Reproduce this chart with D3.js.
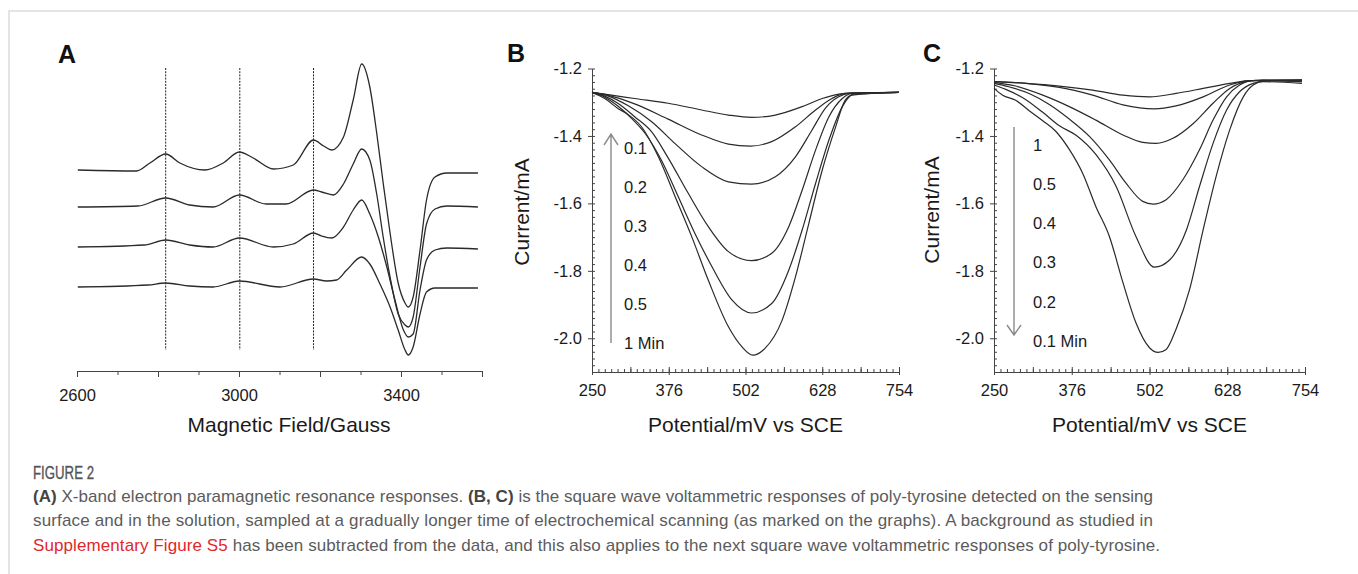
<!DOCTYPE html>
<html>
<head>
<meta charset="utf-8">
<script src="https://cdn.jsdelivr.net/npm/d3@7"></script>
<style>
  body { margin: 0; background: #fff; }
  svg { display: block; }
  text { font-family: "Liberation Sans", Arial, sans-serif; }
</style>
</head>
<body>
<div id="fig"></div>
<script>
// ---- data: panel A, EPR spectra [field (G), intensity (a.u.)] ----
const epr1 = [[2602,0],[2747,-1],[2780,7],[2819,16],[2854,7],[2916,0],[2961,7],[3001,18],[3035,12],[3085,1],[3134,5],[3184,30],[3209,24],[3229,20],[3258,33],[3282,70],[3303,106],[3323,83],[3340,37],[3356,-13],[3373,-63],[3393,-113],[3410,-133],[3418,-137],[3430,-127],[3447,-80],[3463,-30],[3484,-7],[3513,-3],[3590,-3]]
const epr2 = [[2602,0],[2750,1],[2819,9],[2878,2],[2936,0],[3001,12],[3067,3],[3116,3],[3184,17],[3204,15],[3233,12],[3258,23],[3282,43],[3303,58],[3323,47],[3340,13],[3356,-30],[3373,-70],[3393,-107],[3410,-118],[3418,-120],[3430,-110],[3447,-60],[3463,-17],[3484,-2],[3513,1],[3590,0]]
const epr3 = [[2602,0],[2766,2],[2819,7],[2878,2],[2936,0],[3001,9],[3085,0],[3134,3],[3184,14],[3204,11],[3229,9],[3258,20],[3282,37],[3303,47],[3323,33],[3344,10],[3365,-20],[3385,-53],[3406,-83],[3418,-90],[3430,-87],[3447,-43],[3463,-13],[3484,-3],[3513,-1],[3590,-2]]
const epr4 = [[2602,0],[2775,2],[2819,4],[2878,1],[2936,0],[3001,6],[3101,0],[3184,8],[3216,6],[3241,7],[3266,17],[3303,30],[3323,23],[3348,3],[3373,-20],[3393,-43],[3410,-63],[3418,-68],[3430,-60],[3447,-27],[3463,-5],[3484,-1],[3590,-1]]
const eprOffsets = [0, -37, -77, -117]
const dashedFields = [2819, 3002, 3184]
const fieldLabels = [2600, 3000, 3400]

// ---- data: panel B, SWV on sensing surface [potential (mV), current (mA)] ----
const b01 = [[250,-1.271],[282,-1.279],[320,-1.289],[375,-1.303],[430,-1.323],[474,-1.338],[512,-1.345],[551,-1.338],[595,-1.313],[628,-1.289],[655,-1.276],[677,-1.272],[754,-1.271]]
const b02 = [[250,-1.271],[276,-1.279],[320,-1.305],[375,-1.350],[430,-1.397],[474,-1.424],[510,-1.430],[545,-1.417],[584,-1.373],[617,-1.323],[644,-1.289],[666,-1.274],[754,-1.271]]
const b03 = [[250,-1.271],[276,-1.281],[309,-1.310],[348,-1.358],[386,-1.422],[430,-1.491],[474,-1.536],[512,-1.543],[551,-1.521],[584,-1.462],[611,-1.383],[633,-1.318],[655,-1.284],[672,-1.274],[754,-1.271]]
const b04 = [[250,-1.271],[271,-1.282],[293,-1.304],[320,-1.343],[348,-1.388],[375,-1.465],[408,-1.570],[441,-1.669],[474,-1.743],[512,-1.770],[545,-1.748],[573,-1.669],[595,-1.561],[617,-1.442],[639,-1.343],[661,-1.289],[677,-1.274],[754,-1.271]]
const b05 = [[250,-1.271],[271,-1.285],[293,-1.312],[315,-1.348],[337,-1.392],[364,-1.472],[392,-1.582],[419,-1.689],[447,-1.788],[480,-1.887],[512,-1.925],[545,-1.897],[573,-1.798],[595,-1.679],[617,-1.541],[639,-1.412],[661,-1.313],[677,-1.279],[754,-1.271]]
const b1min = [[250,-1.271],[271,-1.289],[293,-1.319],[309,-1.336],[331,-1.372],[359,-1.462],[386,-1.578],[414,-1.700],[441,-1.828],[474,-1.966],[496,-2.025],[514,-2.050],[534,-2.030],[562,-1.947],[584,-1.818],[606,-1.659],[628,-1.501],[650,-1.373],[666,-1.293],[680,-1.276],[754,-1.271]]
const labelsB = ["0.1", "0.2", "0.3", "0.4", "0.5", "1 Min"]

// ---- data: panel C, SWV in solution ----
const c1 = [[250,-1.239],[302,-1.244],[356,-1.252],[410,-1.264],[459,-1.279],[502,-1.284],[545,-1.274],[589,-1.259],[632,-1.244],[665,-1.236],[749,-1.234]]
const c05 = [[250,-1.239],[302,-1.244],[356,-1.256],[410,-1.279],[459,-1.308],[510,-1.320],[545,-1.311],[589,-1.284],[632,-1.249],[665,-1.236],[749,-1.234]]
const c04 = [[250,-1.241],[285,-1.252],[329,-1.279],[372,-1.313],[415,-1.353],[459,-1.397],[491,-1.419],[513,-1.422],[540,-1.407],[573,-1.363],[605,-1.303],[632,-1.259],[659,-1.239],[686,-1.234],[749,-1.236]]
const c03 = [[250,-1.244],[274,-1.254],[307,-1.274],[339,-1.306],[372,-1.350],[405,-1.402],[437,-1.471],[464,-1.540],[491,-1.594],[508,-1.602],[529,-1.589],[556,-1.530],[583,-1.441],[605,-1.353],[627,-1.284],[648,-1.249],[670,-1.236],[749,-1.236]]
const c02 = [[250,-1.249],[269,-1.262],[296,-1.286],[329,-1.330],[356,-1.370],[383,-1.398],[415,-1.455],[448,-1.550],[480,-1.698],[510,-1.789],[535,-1.767],[562,-1.678],[583,-1.550],[605,-1.422],[627,-1.323],[648,-1.269],[670,-1.244],[692,-1.237],[749,-1.239]]
const c01 = [[250,-1.259],[264,-1.279],[285,-1.294],[307,-1.325],[329,-1.355],[350,-1.386],[372,-1.440],[394,-1.512],[415,-1.609],[437,-1.698],[459,-1.835],[480,-1.954],[502,-2.028],[516,-2.042],[529,-2.033],[545,-1.973],[567,-1.855],[589,-1.678],[610,-1.520],[632,-1.382],[654,-1.284],[670,-1.249],[686,-1.239],[749,-1.244]]
const labelsC = ["1", "0.5", "0.4", "0.3", "0.2", "0.1 Min"]

const potentialTicks = [250, 376, 502, 628, 754]
const currentTicks = [-1.2, -1.4, -1.6, -1.8, -2.0]

const ink = "#2a2a2a"
const tickFont = 16.5

const svg = d3.select("#fig").append("svg")
  .attr("width", 1358)
  .attr("height", 574)

// card border
svg.append("path")
  .attr("d", "M9,574V11H1358")
  .attr("fill", "none")
  .attr("stroke", "#dcdcdc")
  .attr("stroke-width", 1.5)

function styleAxis(g) {
  g.attr("font-size", tickFont).attr("font-family", '"Liberation Sans", Arial, sans-serif')
  g.selectAll(".domain").attr("stroke", "#444")
  g.selectAll(".tick line").attr("stroke", "#444")
  g.selectAll(".tick text").attr("fill", "#1a1a1a")
}

// ================= Panel A =================
const gA = svg.append("g")
const xA = d3.scaleLinear().domain([2600, 3600]).range([77, 482])
const yA = d3.scaleLinear().domain([-200, 106]).range([370, 64])

gA.append("g")
  .attr("transform", "translate(0,371)")
  .call(d3.axisBottom(xA).tickValues(d3.range(2600, 3601, 200)).tickSize(6).tickSizeOuter(0)
    .tickPadding(12).tickFormat(d => fieldLabels.includes(d) ? d : ""))
  .call(styleAxis)
gA.append("g")
  .attr("transform", "translate(0,371)")
  .call(d3.axisBottom(xA).tickValues(d3.range(2700, 3600, 200)).tickSize(4).tickFormat(""))
  .call(g => g.select(".domain").remove())
  .call(styleAxis)

gA.selectAll("line.dash")
  .data(dashedFields)
  .join("line")
  .attr("class", "dash")
  .attr("x1", d => xA(d)).attr("x2", d => xA(d))
  .attr("y1", yA(102)).attr("y2", yA(-180))
  .attr("stroke", "#222")
  .attr("stroke-width", 1)
  .attr("stroke-dasharray", "2,1.2")

const lineA = d3.line().x(d => xA(d[0])).y(d => yA(d[1])).curve(d3.curveMonotoneX)
gA.selectAll("path.epr")
  .data([epr1, epr2, epr3, epr4])
  .join("path")
  .attr("class", "epr")
  .attr("d", (t, i) => lineA(t.map(d => [d[0], d[1] + eprOffsets[i]])))
  .attr("fill", "none")
  .attr("stroke", ink)
  .attr("stroke-width", 1.3)

gA.append("text").attr("x", 289).attr("y", 432).attr("text-anchor", "middle")
  .attr("font-size", 21).attr("fill", "#1a1a1a").text("Magnetic Field/Gauss")
gA.append("text").attr("x", 58).attr("y", 63).attr("font-size", 25).attr("font-weight", "bold")
  .attr("fill", "#111").text("A")

// ================= Panels B and C =================
function drawSwv(o) {
  const g = svg.append("g")
  const x = d3.scaleLinear().domain([250, 754]).range([o.x0, o.x1])
  const y = d3.scaleLinear().domain([-2.1, -1.2]).range([372, 68.5])

  // y axis: labelled ticks outward, minor ticks inward
  g.append("g")
    .attr("transform", `translate(${o.x0},0)`)
    .call(d3.axisLeft(y).tickValues(currentTicks).tickSize(4).tickSizeOuter(0).tickPadding(6)
      .tickFormat(d => d.toFixed(1)))
    .call(styleAxis)
  g.append("g")
    .attr("transform", `translate(${o.x0},0)`)
    .call(d3.axisRight(y).tickValues(d3.range(0, 46).map(i => -2.1 + i * 0.02)).tickSize(3).tickFormat(""))
    .call(gg => gg.select(".domain").remove())
    .call(styleAxis)

  // x axis
  g.append("g")
    .attr("transform", "translate(0,372)")
    .call(d3.axisBottom(x).tickValues(potentialTicks).tickSize(3).tickSizeOuter(0).tickPadding(9))
    .call(styleAxis)
  g.append("g")
    .attr("transform", "translate(0,372)")
    .call(d3.axisTop(x).tickValues(d3.range(0, 49).map(i => 250 + i * 10.5)).tickSize(3).tickFormat(""))
    .call(gg => gg.select(".domain").remove())
    .call(styleAxis)
  g.append("g")
    .attr("transform", "translate(0,372)")
    .call(d3.axisTop(x).tickValues(d3.range(0, 9).map(i => 250 + i * 63)).tickSize(5).tickFormat(""))
    .call(gg => gg.select(".domain").remove())
    .call(styleAxis)

  const line = d3.line().x(d => x(d[0])).y(d => y(d[1])).curve(d3.curveMonotoneX)
  g.selectAll("path.swv")
    .data(o.series)
    .join("path")
    .attr("class", "swv")
    .attr("d", line)
    .attr("fill", "none")
    .attr("stroke", ink)
    .attr("stroke-width", 1.2)

  // time arrow
  const ah = o.tipY < o.tailY ? 11 : -10
  g.append("path")
    .attr("d", `M${o.arrowX},${o.tailY}V${o.tipY}M${o.arrowX - 7},${o.tipY + ah}L${o.arrowX},${o.tipY}L${o.arrowX + 7},${o.tipY + ah}`)
    .attr("fill", "none")
    .attr("stroke", "#8a8a8a")
    .attr("stroke-width", 1.4)

  g.selectAll("text.lab")
    .data(o.labels)
    .join("text")
    .attr("class", "lab")
    .attr("x", o.labelX)
    .attr("y", (d, i) => o.labelY0 + i * o.labelStep)
    .attr("dy", "0.35em")
    .attr("font-size", tickFont)
    .attr("fill", "#1a1a1a")
    .text(d => d)

  g.append("text").attr("x", (o.x0 + o.x1) / 2).attr("y", 432).attr("text-anchor", "middle")
    .attr("font-size", 21).attr("fill", "#1a1a1a").text("Potential/mV vs SCE")
  g.append("text")
    .attr("transform", `translate(${o.titleX},${o.titleY}) rotate(-90)`)
    .attr("text-anchor", "middle").attr("dy", "0.35em")
    .attr("font-size", 21).attr("fill", "#1a1a1a").text("Current/mA")
  g.append("text").attr("x", o.letterX).attr("y", 62).attr("font-size", 25).attr("font-weight", "bold")
    .attr("fill", "#111").text(o.letter)
}

drawSwv({
  series: [b01, b02, b03, b04, b05, b1min], labels: labelsB, letter: "B", letterX: 507,
  x0: 592, x1: 899, arrowX: 611, tailY: 343, tipY: 134,
  labelX: 624, labelY0: 148, labelStep: 39, titleX: 522, titleY: 212
})
drawSwv({
  series: [c1, c05, c04, c03, c02, c01], labels: labelsC, letter: "C", letterX: 923,
  x0: 994, x1: 1305, arrowX: 1014, tailY: 127, tipY: 335,
  labelX: 1033, labelY0: 145, labelStep: 39.2, titleX: 932, titleY: 210
})

// ================= Caption =================
const cap = svg.append("g").attr("fill", "#5b5b5b")
cap.append("text").attr("x", 33).attr("y", 479).attr("font-size", 18)
  .attr("textLength", 61).attr("lengthAdjust", "spacingAndGlyphs")
  .attr("fill", "#555").attr("stroke", "#555").attr("stroke-width", 0.35)
  .text("FIGURE 2")
const capLines = [
  [["(A)", "b"], [" X-band electron paramagnetic resonance responses. ", ""], ["(B, C)", "b"], [" is the square wave voltammetric responses of poly-tyrosine detected on the sensing", ""]],
  [["surface and in the solution, sampled at a gradually longer time of electrochemical scanning (as marked on the graphs). A background as studied in", ""]],
  [["Supplementary Figure S5", "r"], [" has been subtracted from the data, and this also applies to the next square wave voltammetric responses of poly-tyrosine.", ""]]
]
const capWidths = [1120, 1120, 1127]
capLines.forEach((parts, i) => {
  const t = cap.append("text").attr("x", 33).attr("y", 502 + i * 24.3)
    .attr("font-size", 17)
    .attr("textLength", capWidths[i]).attr("lengthAdjust", "spacing")
  parts.forEach(([s, k]) => {
    t.append("tspan").text(s)
      .attr("font-weight", k === "b" ? "bold" : null)
      .attr("fill", k === "r" ? "#e2272b" : k === "b" ? "#444" : null)
  })
})
</script>
</body>
</html>
